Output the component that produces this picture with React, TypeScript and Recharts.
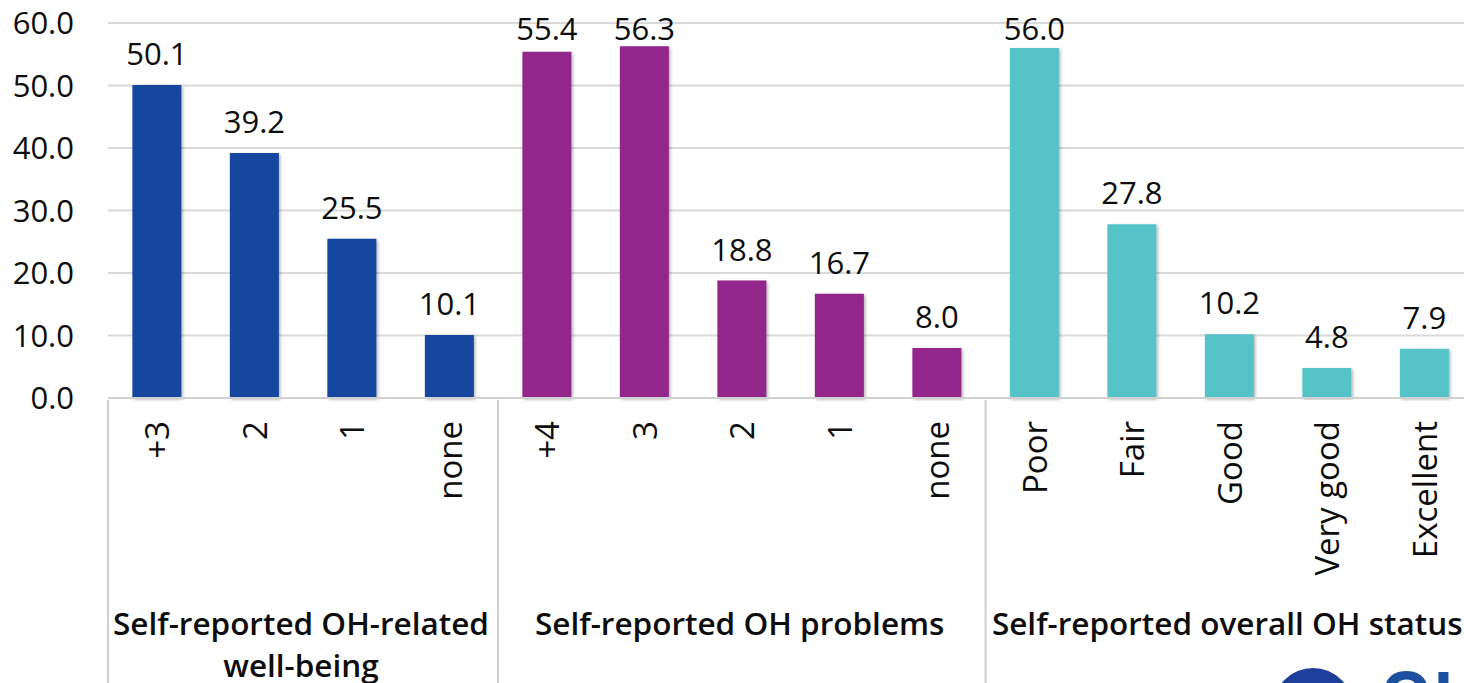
import React from 'react';
import { BarChart, Bar, XAxis, YAxis, CartesianGrid, Cell, LabelList } from 'recharts';

const categories = ['+3', '2', '1', 'none', '+4', '3', '2', '1', 'none', 'Poor', 'Fair', 'Good', 'Very good', 'Excellent'];
const values = [50.1, 39.2, 25.5, 10.1, 55.4, 56.3, 18.8, 16.7, 8.0, 56.0, 27.8, 10.2, 4.8, 7.9];
const groupNames = [['Self-reported OH-related', 'well-being'], ['Self-reported OH problems'], ['Self-reported overall OH status']];
const groupSizes = [4, 5, 5];
const groupColors = ['#17479e', '#93258a', '#55c3c7'];
const yTicks = [0, 10, 20, 30, 40, 50, 60];

const groupOf: number[] = [];
const groupStart: number[] = [];
groupSizes.forEach((n, g) => {
  groupStart.push(groupOf.length);
  for (let i = 0; i < n; i++) groupOf.push(g);
});

const data = categories.map((c, i) => ({ id: 'c' + i, name: c, value: values[i] }));

const FONT = '"Open Sans", "Noto Sans", sans-serif';
const INK = '#0d0d0d';

function CategoryTick(props: any) {
  const { x, y, payload, index } = props;
  const band = (payload?.offset ?? 48.7) * 2;
  const g = groupOf[index];
  const isStart = groupStart[g] === index;
  const isLast = index === categories.length - 1;
  const n = groupSizes[g];
  const cx = x + ((n - 1) / 2) * band - 2;
  return (
    <g>
      <text
        transform={`translate(${x},${y + 21}) rotate(-90)`}
        textAnchor="end"
        dominantBaseline="central"
        fontSize={33}
        fontFamily={FONT}
        fill={INK}
      >
        {categories[index]}
      </text>
      {isStart && (
        <line x1={x - band / 2} x2={x - band / 2} y1={y} y2={700} stroke="#d0d0d0" strokeWidth={2} />
      )}
      {isLast && (
        <line x1={x + band / 2} x2={x + band / 2} y1={y} y2={700} stroke="#d0d0d0" strokeWidth={2} />
      )}
      {isStart && (
        <text x={cx} y={y + 235} textAnchor="middle" fontSize={31.5} fontWeight={600} fontFamily={FONT} fill={INK}>
          {groupNames[g].map((line, k) => (
            <tspan key={k} x={cx} dy={k === 0 ? 0 : 42}>
              {line}
            </tspan>
          ))}
        </text>
      )}
    </g>
  );
}

function ValueLabel(props: any) {
  const { x, y, width, value } = props;
  const baseline = Math.max(y - 20, 40);
  return (
    <text x={x + width / 2} y={baseline} textAnchor="middle" fontSize={31} fontFamily={FONT} fill={INK}>
      {Number(value).toFixed(1)}
    </text>
  );
}

export default function App() {
  return (
    <div style={{ position: 'absolute', left: 0, top: 0, width: 1464, height: 683, overflow: 'hidden', background: '#fff' }}>
      <BarChart
        width={1473}
        height={683}
        data={data}
        margin={{ top: 23, right: 0, bottom: 0, left: 0 }}
        barCategoryGap="25%"
      >
        <defs>
          <filter id="barShadow" x="-20%" y="-5%" width="140%" height="110%">
            <feDropShadow dx={1.5} dy={1.5} stdDeviation={1.5} floodColor="#000" floodOpacity={0.3} />
          </filter>
        </defs>
        <CartesianGrid vertical={false} stroke="#d9d9d9" strokeWidth={2} />
        <XAxis
          dataKey="id"
          height={285}
          interval={0}
          tickLine={false}
          tickSize={0}
          axisLine={{ stroke: '#d0d0d0', strokeWidth: 2 }}
          tick={<CategoryTick />}
        />
        <YAxis
          width={108}
          domain={[0, 60]}
          ticks={yTicks}
          axisLine={false}
          tickLine={false}
          tickMargin={28}
          tickFormatter={(v: number) => v.toFixed(1)}
          tick={{ fontSize: 31, fontFamily: FONT, fill: INK }}
        />
        <Bar dataKey="value" isAnimationActive={false}>
          {data.map((d, i) => (
            <Cell key={d.id} fill={groupColors[groupOf[i]]} filter="url(#barShadow)" />
          ))}
          <LabelList dataKey="value" content={<ValueLabel />} />
        </Bar>
      </BarChart>
      <svg width={220} height={30} style={{ position: 'absolute', left: 1260, top: 660 }}>
        <circle cx={53} cy={48} r={40} fill="#1d3f9b" />
        <circle cx={53} cy={52} r={26} fill="#c0307f" opacity={0.6} />
        <text x={120} y={60} fontSize={66} fontWeight="bold" fontFamily={FONT} fill="#1d4fa0">
          OH
        </text>
      </svg>
    </div>
  );
}
